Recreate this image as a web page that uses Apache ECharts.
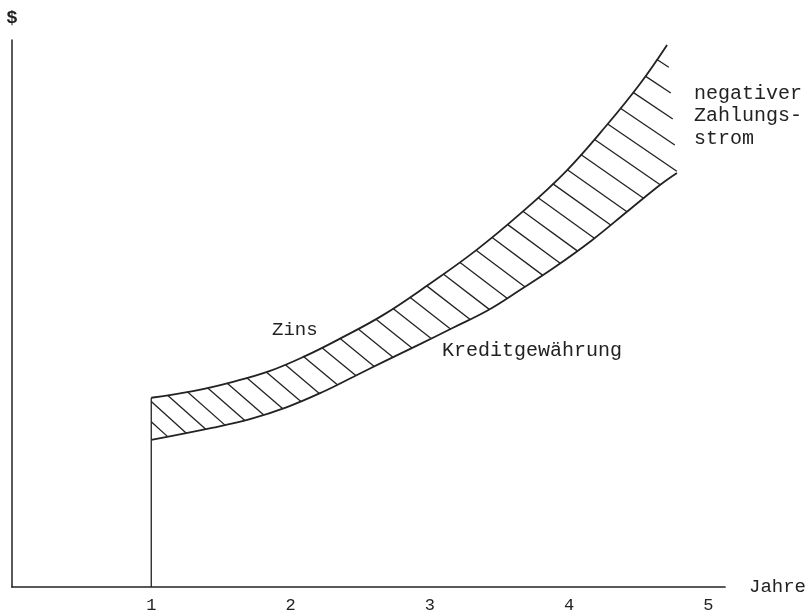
<!DOCTYPE html>
<html><head><meta charset="utf-8">
<script src="https://cdn.jsdelivr.net/npm/echarts/dist/echarts.min.js"></script>
<style>html,body{margin:0;padding:0;background:#fff}#c{width:811px;height:616px}</style>
</head><body><div id="c"></div>
<script>
// x tick labels (Jahre)
const xTicks = ['1', '2', '3', '4', '5'];
// upper boundary of the band (Zins on top of Kreditgewährung)
const upperCurve = [
  [1.000, 34.6], [1.300, 35.8], [1.587, 37.5], [1.853, 39.5], [2.104, 42.2],
  [2.355, 45.4], [2.664, 49.7], [2.987, 55.2], [3.325, 61.4], [3.648, 68.2],
  [3.978, 76.0], [4.273, 84.5], [4.510, 92.0], [4.704, 99.1]
];
// lower boundary (Kreditgewährung)
const lowerCurve = [
  [1.000, 26.9], [1.436, 29.1], [1.709, 30.7], [1.975, 32.9], [2.226, 35.6],
  [2.449, 38.4], [2.678, 41.3], [2.930, 44.4], [3.167, 47.4], [3.418, 50.6],
  [3.648, 54.3], [3.899, 58.5], [4.165, 63.4], [4.416, 68.6], [4.653, 73.5],
  [4.775, 75.7]
];
// vertical start line at year 1
const startLine = [[1, 0], [1, upperCurve[0][1]]];

const labels = {
  zins: 'Zins',
  kredit: 'Kreditgewährung',
  negativ: 'negativer\nZahlungs-\nstrom',
  xName: 'Jahre',
  yName: '$'
};

const INK = '#222';
const FONT = '"Liberation Mono", "DejaVu Sans Mono", monospace';

function raySeg(P, d, A, B) {
  const ex = B[0] - A[0], ey = B[1] - A[1];
  const den = d[0] * ey - d[1] * ex;
  if (Math.abs(den) < 1e-9) return Infinity;
  const ax = A[0] - P[0], ay = A[1] - P[1];
  const r = (ax * ey - ay * ex) / den;
  const u = (ax * d[1] - ay * d[0]) / den;
  if (u < -1e-6 || u > 1 + 1e-6 || r <= 0.5) return Infinity;
  return r;
}

function renderHatch(params, api) {
  const U = upperCurve.map(p => api.coord(p));
  const L = lowerCurve.map(p => api.coord(p));
  const path = [L[0]].concat(U);
  const cum = [0];
  for (let i = 1; i < path.length; i++) {
    cum.push(cum[i - 1] + Math.hypot(path[i][0] - path[i - 1][0], path[i][1] - path[i - 1][1]));
  }
  const total = cum[cum.length - 1];
  const edgeLen = cum[1];
  const walls = [];
  for (let i = 0; i < L.length - 1; i++) walls.push([L[i], L[i + 1]]);
  walls.push([U[U.length - 1], L[L.length - 1]]);
  function pointAt(s) {
    for (let i = 1; i < path.length; i++) {
      if (s <= cum[i]) {
        const f = (s - cum[i - 1]) / (cum[i] - cum[i - 1]);
        return [path[i - 1][0] + f * (path[i][0] - path[i - 1][0]),
                path[i - 1][1] + f * (path[i][1] - path[i - 1][1])];
      }
    }
    return path[path.length - 1];
  }
  const children = [];
  const step = 20.3;
  for (let s = 18; s < total - 8; s += step) {
    const P = pointAt(s);
    const t = Math.max(0, (s - edgeLen) / (total - edgeLen));
    const ang = (42 - 9 * t) * Math.PI / 180;
    const d = [Math.cos(ang), Math.sin(ang)];
    let best = Infinity;
    for (const w of walls) {
      const r = raySeg(P, d, w[0], w[1]);
      if (r < best) best = r;
    }
    if (best < Infinity) {
      children.push({
        type: 'line',
        shape: { x1: P[0], y1: P[1], x2: P[0] + best * d[0], y2: P[1] + best * d[1] },
        style: { stroke: INK, lineWidth: 1.3 }
      });
    }
  }
  return { type: 'group', children: children };
}

const chart = echarts.init(document.getElementById('c'), null, { renderer: 'canvas' });
chart.setOption({
  backgroundColor: '#fff',
  animation: false,
  grid: { left: 12, right: 86, top: 40, bottom: 29, containLabel: false },
  xAxis: {
    type: 'value', min: 0, max: 5.12, interval: 1,
    name: labels.xName, nameLocation: 'end', nameGap: 24,
    nameTextStyle: { fontFamily: FONT, fontSize: 19, color: INK },
    axisLine: { show: true, lineStyle: { color: INK, width: 1.7 } },
    axisTick: { show: false },
    splitLine: { show: false },
    axisLabel: {
      show: true, margin: 10, fontFamily: FONT, fontSize: 17, color: INK,
      formatter: v => (v >= 1 && v <= 5 && Number.isInteger(v)) ? xTicks[v - 1] : ''
    }
  },
  yAxis: {
    type: 'value', min: 0, max: 100,
    name: labels.yName, nameLocation: 'end', nameGap: 12,
    nameTextStyle: { fontFamily: FONT, fontSize: 19, fontWeight: 'bold', color: INK, align: 'center' },
    axisLine: { show: true, lineStyle: { color: INK, width: 1.5 } },
    axisTick: { show: false },
    axisLabel: { show: false },
    splitLine: { show: false }
  },
  series: [
    {
      type: 'custom', name: 'hatch', renderItem: renderHatch, data: [[1, 30]],
      clip: false, silent: true, z: 1
    },
    {
      type: 'line', name: 'Zins', data: upperCurve, smooth: 0.4, symbol: 'none',
      lineStyle: { color: INK, width: 1.8 }, z: 2, silent: true
    },
    {
      type: 'line', name: 'Kreditgewährung', data: lowerCurve, smooth: 0.4, symbol: 'none',
      lineStyle: { color: INK, width: 1.8 }, z: 2, silent: true
    },
    {
      type: 'line', name: 'start', data: startLine, symbol: 'none',
      lineStyle: { color: INK, width: 1.3 }, z: 2, silent: true
    }
  ],
  graphic: [
    { type: 'text', left: 272, top: 320, style: { text: labels.zins, font: '19px ' + FONT, fill: INK } },
    { type: 'text', left: 442, top: 341, style: { text: labels.kredit, font: '20px ' + FONT, fill: INK } },
    { type: 'text', left: 694, top: 82, style: { text: labels.negativ, font: '20px ' + FONT, fill: INK, lineHeight: 22.5 } }
  ]
});
</script>
</body></html>
